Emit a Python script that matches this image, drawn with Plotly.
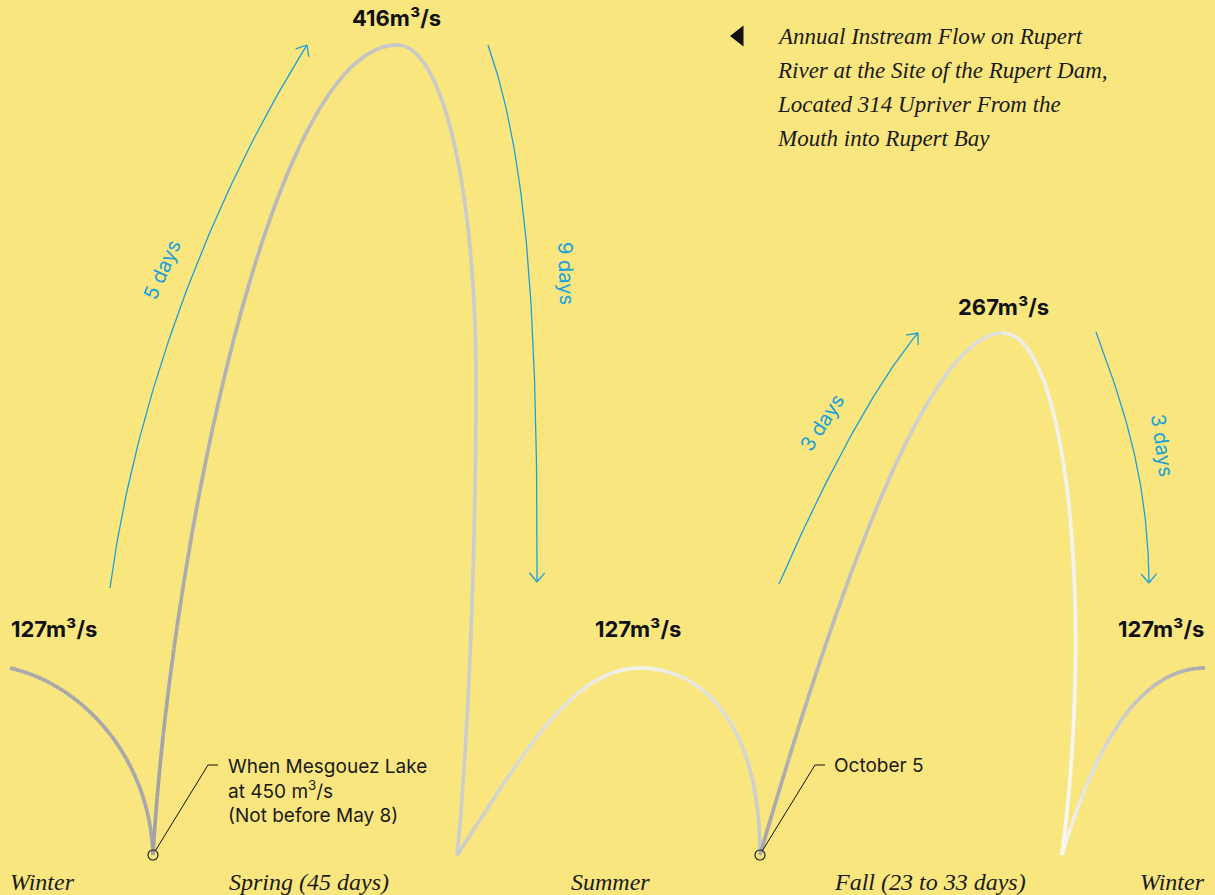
import numpy as np
import plotly.graph_objects as go

# ---------------- data ----------------
seasons = ["Winter", "Spring (45 days)", "Summer", "Fall (23 to 33 days)", "Winter"]
peak_flows = [127, 416, 127, 267, 127]          # m³/s at each crest
ramp_days = ["5 days", "9 days", "3 days", "3 days"]
note_texts = ["When Mesgouez Lake<br>at 450 m<sup>3</sup>/s<br>(Not before May 8)", "October 5"]
title_lines = ["Annual Instream Flow on Rupert",
               "River at the Site of the Rupert Dam,",
               "Located 314 Upriver From the",
               "Mouth into Rupert Bay"]

# ---------------- layout constants (display geometry) ----------------
W, H = 1215, 895
BG = "#f9e67f"
BLUE = "#1ba1d9"
SANS = "Inter, Lato, sans-serif"
SERIF = "Liberation Serif, DejaVu Serif, serif"

# display height of each crest (illustrative scale)
crest_h = {127: 187, 416: 810, 267: 522}

def bez(p0, p1, p2, p3, n=60):
    t = np.linspace(0, 1, n)[:, None]
    p0, p1, p2, p3 = map(np.array, (p0, p1, p2, p3))
    pts = ((1 - t) ** 3) * p0 + 3 * ((1 - t) ** 2) * t * p1 + 3 * (1 - t) * t ** 2 * p2 + t ** 3 * p3
    return pts[:, 0], pts[:, 1]

def hex2rgb(h):
    h = h.lstrip("#")
    return np.array([int(h[i:i + 2], 16) for i in (0, 2, 4)], float)

fig = go.Figure()

def grad_curve(ctrl, c0, c1, width=3.7, n=48):
    x, y = bez(*ctrl, n=n + 1)
    a, b = hex2rgb(c0), hex2rgb(c1)
    for i in range(n):
        f = i / max(n - 1, 1)
        c = a + (b - a) * f
        col = "rgb(%d,%d,%d)" % tuple(c.round())
        fig.add_trace(go.Scatter(x=[x[i], x[i + 1]], y=[y[i], y[i + 1]], mode="lines",
                                 line=dict(color=col, width=width), hoverinfo="skip",
                                 showlegend=False))

hW, hS, hF = crest_h[peak_flows[0]], crest_h[peak_flows[1]], crest_h[peak_flows[3]]
# flow curves (x, display height)
grad_curve([(10, hW), (85, hW - 17), (150, 95), (153, 0)], "#a7a7ad", "#a5a5ab")
grad_curve([(153, 0), (170, 295), (270, hS), (397, hS)], "#a0a0a6", "#c6c6c8")
grad_curve([(397, hS), (445, hS), (476, 655), (476, 475)], "#c8c8ca", "#cbcbcb")
grad_curve([(476, 475), (476, 305), (468, 105), (457, 0)], "#cbcbcb", "#cdcdcd")
grad_curve([(457, 0), (520, 95), (570, hW), (640, hW)], "#cacaca", "#f3f3f1")
grad_curve([(640, hW), (700, hW), (760, 135), (760, 0)], "#f3f3f1", "#c6c6c8")
grad_curve([(760, 0), (820, 205), (920, hF), (1003, hF)], "#a6a6aa", "#e2e2e0")
grad_curve([(1003, hF), (1065, hF), (1095, 255), (1062, 0)], "#ececea", "#f8f8f6")
grad_curve([(1062, 0), (1088, 85), (1130, hW), (1205, hW)], "#f8f8f6", "#a8a8ae")

# blue duration arrows
arrows = [
    [(110, 267), (135, 455), (210, 655), (307, 810)],
    [(488, 810), (525, 705), (538, 555), (537, 273)],
    [(779, 271), (815, 355), (870, 465), (918, 522)],
    [(1096, 523), (1125, 445), (1148, 375), (1149, 272)],
]
for ctrl in arrows:
    x, y = bez(*ctrl, n=80)
    fig.add_trace(go.Scatter(x=x, y=y, mode="lines", line=dict(color=BLUE, width=1.3),
                             hoverinfo="skip", showlegend=False))
    d = np.array([x[-1] - x[-4], y[-1] - y[-4]])
    d = d / np.linalg.norm(d)
    L = 12
    for ang in (np.radians(40), -np.radians(40)):
        r = np.array([[np.cos(ang), -np.sin(ang)], [np.sin(ang), np.cos(ang)]]) @ (-d)
        fig.add_trace(go.Scatter(x=[x[-1], x[-1] + L * r[0]], y=[y[-1], y[-1] + L * r[1]],
                                 mode="lines", line=dict(color=BLUE, width=1.3),
                                 hoverinfo="skip", showlegend=False))

# leader lines + circle markers for the two notes
for (cx, lx) in [(153, 208), (760, 815)]:
    fig.add_trace(go.Scatter(x=[cx + 2.5, lx, lx + 10], y=[4.5, 90, 90], mode="lines",
                             line=dict(color="#111111", width=1), hoverinfo="skip", showlegend=False))
    fig.add_trace(go.Scatter(x=[cx], y=[0], mode="markers",
                             marker=dict(size=10, color="rgba(0,0,0,0)", line=dict(color="#111111", width=1.1)),
                             hoverinfo="skip", showlegend=False))

# title triangle marker
fig.add_trace(go.Scatter(x=[739], y=[819], mode="markers",
                         marker=dict(symbol="triangle-left", size=18, color="#111111"),
                         hoverinfo="skip", showlegend=False))

ann = []
# crest labels
crest_pos = [(9, 226, "left"), (396, 837, "center"), (638, 226, "center"),
             (1003, 548, "center"), (1206, 226, "right")]
for (px, py, al), v in zip(crest_pos, peak_flows):
    ann.append(dict(x=px, y=py, text=f"{v}m³/s", showarrow=False, xanchor=al, yanchor="middle",
                    font=dict(family=SANS, size=22, color="#111111", weight=700)))
# season labels
season_pos = [(8, "left"), (227, "left"), (569, "left"), (832, "left"), (1207, "right")]
for (px, al), s in zip(season_pos, seasons):
    ann.append(dict(x=px, y=-27, text=f"<i>{s}</i>", showarrow=False, xanchor=al, yanchor="middle",
                    font=dict(family=SERIF, size=24, color="#1a1a1a")))
# duration labels
day_pos = [(162, 585, -66), (566, 582, 88), (822, 432, -57), (1162, 410, 82)]
for (px, py, ang), s in zip(day_pos, ramp_days):
    ann.append(dict(x=px, y=py, text=s, showarrow=False, textangle=ang, xanchor="center", yanchor="middle",
                    font=dict(family=SANS, size=20, color=BLUE)))
# notes
ann.append(dict(x=226, y=90, text=note_texts[0], showarrow=False, xanchor="left", yanchor="top",
                yshift=12, align="left", font=dict(family=SANS, size=19, color="#1a1a1a")))
ann.append(dict(x=832, y=90, text=note_texts[1], showarrow=False, xanchor="left", yanchor="middle",
                align="left", font=dict(family=SANS, size=19, color="#1a1a1a")))
# title
for i, line in enumerate(title_lines):
    ann.append(dict(x=775, y=819 - 34 * i, text=f"<i>{line}</i>", showarrow=False, xanchor="left",
                    yanchor="middle", font=dict(family=SERIF, size=23, color="#1a1a1a")))

fig.update_layout(
    width=W, height=H, paper_bgcolor=BG, plot_bgcolor=BG,
    margin=dict(l=0, r=0, t=0, b=0), showlegend=False,
    xaxis=dict(range=[0, W], visible=False, fixedrange=True),
    yaxis=dict(range=[-40, 855], visible=False, fixedrange=True),
    annotations=ann,
)
fig.write_html("out.html", config={"displayModeBar": False},
               post_script="document.body.style.margin='0';document.body.style.overflow='hidden';")
